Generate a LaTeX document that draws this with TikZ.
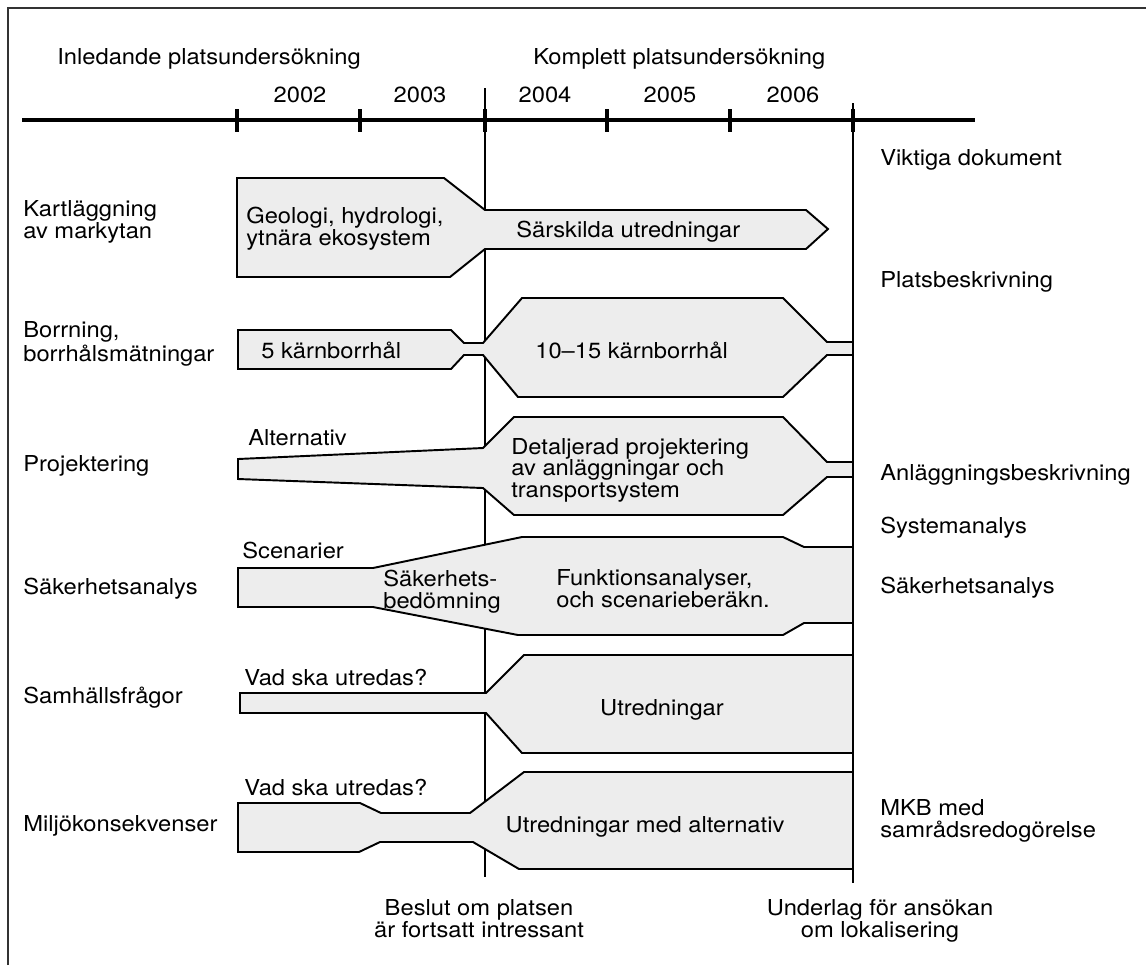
\documentclass[tikz,border=0pt]{standalone}
\usepackage{fontspec}
\setmainfont{TeX Gyre Heros}[FakeStretch=1.08]
\usetikzlibrary{positioning}
\definecolor{fasgra}{gray}{0.93}
\tikzstyle{fas}=[draw=black, line width=1.1pt, fill=fasgra, line join=miter]
\tikzstyle{txt}=[inner sep=0pt, anchor=base west, align=left, font=\fontsize{12.5}{12}\selectfont]
\tikzstyle{ctxt}=[txt, anchor=base, align=center]
\tikzstyle{gräns}=[line width=0.7pt]

\begin{document}
\begin{tikzpicture}[x=0.02cm,y=-0.02cm]
  \useasboundingbox (0,0) rectangle (1146,965);
  \draw[line width=0.9pt, black!80] (8,965) |- (1146,8);

  % tidsaxel
  \node[txt] (inled) at (57,64) {Inledande platsundersökning};
  \node[txt] (kompl) at (533,64) {Komplett platsundersökning};
  \draw[line width=2.7pt] (22,120) -- (975,120);
  \foreach \x in {237,360,485,607,730,853}
    \draw[line width=2.7pt] (\x,109) -- (\x,132);
  \foreach \x/\yr in {300/2002,420/2003,545/2004,670/2005,793/2006}
    \node[ctxt] (ar\yr) at (\x,102) {\yr};
  \draw[gräns] (485,88) -- (485,877);
  \draw[gräns] (853,103) -- (853,883);

  % faser
  \draw[fas] (237,178) -- (444,178) -- (485,210) -- (806,210) -- (828,229)
    -- (806,249) -- (485,249) -- (450,277) -- (237,277) -- cycle;
  \draw[fas] (238,330) -- (451,330) -- (464,343) -- (483,343) -- (522,298)
    -- (783,298) -- (827,342) -- (853,342) -- (853,355) -- (827,355)
    -- (783,397) -- (518,397) -- (483,355) -- (464,355) -- (451,369)
    -- (238,369) -- cycle;
  \draw[fas] (238,459) -- (483,448) -- (514,417) -- (783,417) -- (827,462)
    -- (853,462) -- (853,477) -- (827,477) -- (783,515) -- (514,515)
    -- (483,488) -- (238,479) -- cycle;
  \draw[fas] (238,568) -- (373,568) -- (522,537) -- (783,537) -- (804,547)
    -- (853,547) -- (853,623) -- (804,623) -- (783,635) -- (518,635)
    -- (373,607) -- (238,607) -- cycle;
  \draw[fas] (240,693) -- (486,693) -- (524,655) -- (853,655) -- (853,753)
    -- (522,753) -- (486,713) -- (240,713) -- cycle;
  \draw[fas] (238,803) -- (360,803) -- (381,813) -- (470,813) -- (524,772)
    -- (853,772) -- (853,869) -- (519,869) -- (473,842) -- (380,842)
    -- (359,852) -- (238,852) -- cycle;

  % rubriker till vänster
  \node[txt] (kart) at (23,238) {Kartläggning\\av markytan};
  \node[txt] (borr) at (23,361) {Borrning,\\borrhålsmätningar};
  \node[txt] (proj) at (23,471) {Projektering};
  \node[txt] (saker) at (23,594) {Säkerhetsanalys};
  \node[txt] (samh) at (23,703) {Samhällsfrågor};
  \node[txt] (miljo) at (23,831) {Miljökonsekvenser};

  % text i faserna
  \node[txt] (geo) at (246,245) {Geologi, hydrologi,\\ytnära ekosystem};
  \node[txt] (sarsk) at (516,237) {Särskilda utredningar};
  \node[txt] (kb5) at (261,358) {5 kärnborrhål};
  \node[txt] (kb15) at (535,358) {10--15 kärnborrhål};
  \node[txt] (alt) at (248,445) {Alternativ};
  \node[txt] (detalj) at (511,497) {Detaljerad projektering\\av anläggningar och\\transportsystem};
  \node[txt] (scen) at (242,558) {Scenarier};
  \node[txt] (bedom) at (383,608) {Säkerhets-\\bedömning};
  \node[txt] (funk) at (556,607) {Funktionsanalyser,\\och scenarieberäkn.};
  \node[txt] (vad1) at (244,685) {Vad ska utredas?};
  \node[ctxt] (utr1) at (662,715) {Utredningar};
  \node[txt] (vad2) at (244,795) {Vad ska utredas?};
  \node[ctxt] (utr2) at (645,832) {Utredningar med alternativ};

  % viktiga dokument
  \node[txt] (vikt) at (880,165) {Viktiga dokument};
  \node[txt] (plats) at (880,287) {Platsbeskrivning};
  \node[txt] (anlagg) at (880,480) {Anläggningsbeskrivning};
  \node[txt] (sysan) at (880,533) {Systemanalys};
  \node[txt] (sakan) at (880,593) {Säkerhetsanalys};
  \node[txt] (mkb) at (880,837) {MKB med\\samrådsredogörelse};

  % beslutspunkter
  \node[ctxt] (beslut) at (479,937) {Beslut om platsen\\är fortsatt intressant};
  \node[ctxt] (underl) at (880,937) {Underlag för ansökan\\om lokalisering};
\end{tikzpicture}
\end{document}
